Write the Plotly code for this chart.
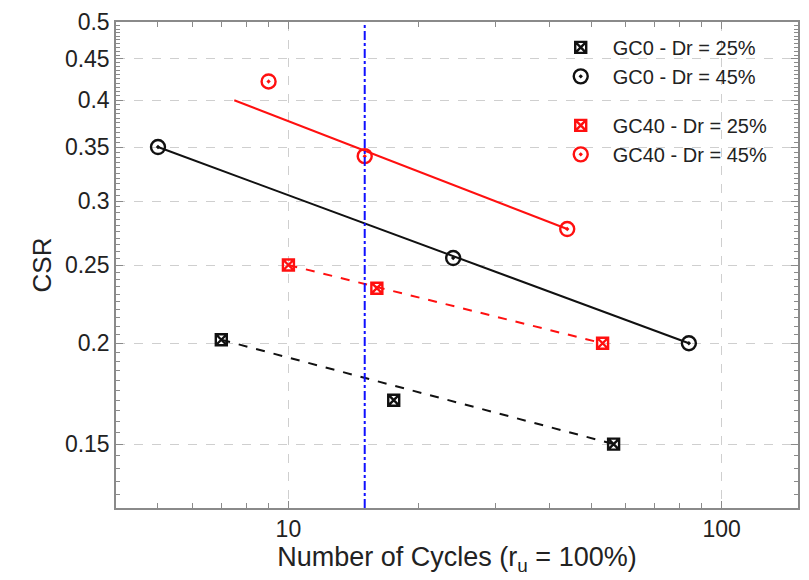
import numpy as np
import plotly.graph_objects as go

# Cyclic resistance data: number of cycles to r_u = 100% vs CSR
gc0_d25_n = [7.0, 17.5, 56.3]
gc0_d25_csr = [0.202, 0.170, 0.150]
gc0_d45_n = [5.0, 24.0, 84.0]
gc0_d45_csr = [0.350, 0.255, 0.200]
gc40_d25_n = [10.0, 16.0, 53.1]
gc40_d25_csr = [0.250, 0.234, 0.200]
gc40_d45_n = [9.0, 15.0, 44.0]
gc40_d45_csr = [0.422, 0.341, 0.277]

# Power-law trend lines (end points)
fit_gc0_d25_n = [7.0, 56.3]
fit_gc0_d25_csr = [0.202, 0.150]
fit_gc0_d45_n = [5.0, 84.0]
fit_gc0_d45_csr = [0.350, 0.200]
fit_gc40_d25_n = [10.0, 53.1]
fit_gc40_d25_csr = [0.250, 0.200]
fit_gc40_d45_n = [7.5, 44.0]
fit_gc40_d45_csr = [0.400, 0.277]

# Reference number of cycles (earthquake magnitude equivalent)
ref_cycles = 15

y_ticks = [0.15, 0.2, 0.25, 0.3, 0.35, 0.4, 0.45, 0.5]
y_ticktext = ["0.15", "0.2", "0.25", "0.3", "0.35", "0.4", "0.45", "0.5"]
x_ticks = [10, 100]
x_ticktext = ["10", "100"]

FONT = "Liberation Sans, Arial, sans-serif"
BLACK = "#111111"
RED = "#ff1010"

fig = go.Figure()

# trend lines
for xs, ys, col, dash in [
    (fit_gc0_d25_n, fit_gc0_d25_csr, BLACK, "dash"),
    (fit_gc0_d45_n, fit_gc0_d45_csr, BLACK, "solid"),
    (fit_gc40_d25_n, fit_gc40_d25_csr, RED, "dash"),
    (fit_gc40_d45_n, fit_gc40_d45_csr, RED, "solid"),
]:
    fig.add_trace(go.Scatter(x=xs, y=ys, mode="lines", showlegend=False,
                             line=dict(color=col, width=2, dash=dash),
                             hoverinfo="skip"))

# measured points
series = [
    ("GC0 - Dr = 25%", gc0_d25_n, gc0_d25_csr, BLACK, "square-x-open", 11, "g1"),
    ("GC0 - Dr = 45%", gc0_d45_n, gc0_d45_csr, BLACK, "circle-open-dot", 14, "g1"),
    ("GC40 - Dr = 25%", gc40_d25_n, gc40_d25_csr, RED, "square-x-open", 11, "g2"),
    ("GC40 - Dr = 45%", gc40_d45_n, gc40_d45_csr, RED, "circle-open-dot", 14, "g2"),
]
for name, xs, ys, col, sym, sz, grp in series:
    fig.add_trace(go.Scatter(x=xs, y=ys, mode="markers", name=name,
                             legendgroup=grp,
                             marker=dict(symbol=sym, size=sz, color=col,
                                         line=dict(color=col, width=2.4))))

fig.add_shape(type="line", xref="x", yref="paper", x0=ref_cycles, x1=ref_cycles,
              y0=0, y1=1, line=dict(color="#1010ff", width=2, dash="dashdot"))

y_minor = [round(v, 3) for v in np.arange(0.125, 0.5001, 0.005)
           if all(abs(v - t) > 1e-6 for t in y_ticks)]
x_minor = [4, 5, 6, 7, 8, 9, 20, 30, 40, 50, 60, 70, 80, 90]

axis_common = dict(
    showline=True, linecolor="#8a8a8a", linewidth=1.5, mirror="ticks",
    ticks="inside", ticklen=7, tickcolor="#8a8a8a", tickwidth=1,
    showgrid=True, gridcolor="#cfcfcf", griddash="dash", gridwidth=1,
    zeroline=False,
    tickfont=dict(family=FONT, size=23, color="#222222"),
)

fig.update_xaxes(type="log", range=[np.log10(4), np.log10(150)],
                 tickmode="array", tickvals=x_ticks, ticktext=x_ticktext,
                 minor=dict(tickmode="array", tickvals=x_minor, ticks="inside",
                            ticklen=5, tickcolor="#8a8a8a", showgrid=False),
                 title=dict(text="Number of Cycles (r<sub>u</sub> = 100%)",
                            font=dict(family=FONT, size=27, color="#222222"),
                            standoff=4),
                 **axis_common)
fig.update_yaxes(type="log", range=[np.log10(0.125), np.log10(0.5)],
                 tickmode="array", tickvals=y_ticks, ticktext=y_ticktext,
                 minor=dict(tickmode="array", tickvals=y_minor, ticks="inside",
                            ticklen=4, tickcolor="#8a8a8a", showgrid=False),
                 title=dict(text="CSR",
                            font=dict(family=FONT, size=26, color="#222222"),
                            standoff=6),
                 **axis_common)

fig.update_layout(
    width=809, height=580,
    margin=dict(l=116, r=9, t=17, b=72),
    paper_bgcolor="white", plot_bgcolor="white",
    showlegend=True,
    legend=dict(x=0.6345, y=0.988, xanchor="left", yanchor="top",
                bgcolor="rgba(255,255,255,0)", borderwidth=0,
                tracegroupgap=20, itemwidth=54,
                font=dict(family=FONT, size=20, color="#222222")),
)

fig.write_html("out.html")
